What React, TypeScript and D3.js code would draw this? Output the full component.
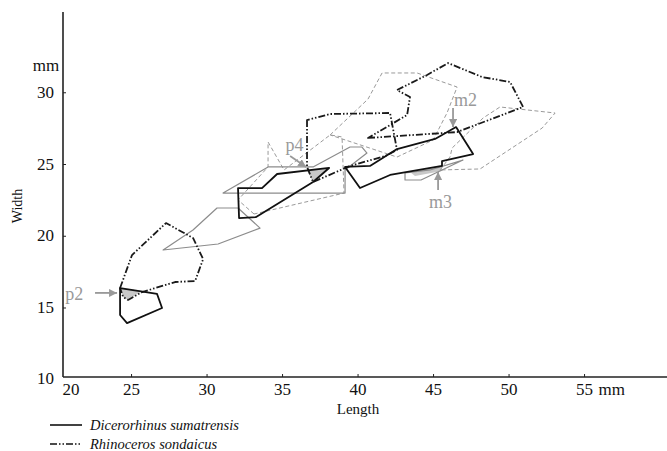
import React, { useRef, useEffect } from 'react';
import * as d3 from 'd3';

// tick labels
const xTicks = [25, 30, 35, 40, 45, 50, 55];
const yTicks = [15, 20, 25, 30];

// outlines, [length, width] in mm
// Dicerorhinus sumatrensis (black solid)
const sumP2 = [[24.24, 16.39], [26.69, 15.98], [27.02, 15.0], [24.7, 13.95], [24.24, 14.51]];
const sumP4 = [[32.05, 23.36], [32.12, 21.27], [33.25, 21.34], [37.02, 23.78], [38.08, 24.76], [34.64, 24.34], [33.64, 23.36]];
const sumM = [[39.14, 24.83], [40.13, 23.36], [42.12, 24.27], [45.56, 24.9], [45.56, 25.24], [47.62, 25.73], [46.49, 27.61], [45.1, 26.78], [42.58, 26.08], [40.79, 24.9]];

// Rhinoceros sondaicus (black dash-dot)
const sonP2 = [[24.24, 16.39], [25.03, 18.69], [27.28, 20.92], [29.07, 19.88], [29.74, 18.41], [29.21, 16.88], [27.88, 16.81], [25.7, 16.11], [24.77, 15.56], [24.44, 15.77]];
const sonP4 = [[36.62, 28.1], [36.62, 24.83], [37.02, 23.78], [39.47, 24.9], [41.79, 25.59], [42.58, 26.01], [42.12, 28.59], [38.15, 28.52]];
const sonM2 = [[40.66, 26.85], [46.56, 27.26], [50.93, 29.01], [50.07, 30.75], [48.21, 31.1], [45.96, 32.07], [44.57, 31.24], [42.58, 30.19], [43.44, 29.7], [43.25, 28.45]];

// other outlines (grey solid)
const greyP2 = [[27.09, 19.04], [29.07, 20.44], [30.66, 21.97], [32.05, 21.97], [33.51, 20.57], [30.73, 19.46]];
const greyP4 = [[31.06, 23.01], [34.04, 24.83], [37.02, 24.83], [39.47, 26.22], [40.26, 26.22], [40.59, 25.8], [39.14, 24.62], [39.14, 23.01]];
const greyM3 = [[43.11, 24.41], [43.11, 23.92], [44.17, 23.92], [46.95, 25.31], [44.77, 24.62]];

// other outlines (grey dashed)
const dashP4 = [[33.11, 21.55], [32.05, 22.53], [34.04, 24.83], [34.04, 26.57], [35.1, 24.62], [38.15, 27.06], [38.94, 26.92], [39.07, 23.01]];
const dashM2 = [[38.15, 27.06], [40.66, 29.56], [41.59, 31.38], [43.91, 31.38], [46.56, 30.4], [45.89, 28.59], [44.97, 26.71], [42.58, 25.52]];
const dashM3 = [[45.43, 24.62], [46.09, 25.52], [46.23, 26.15], [48.28, 28.24], [49.4, 29.01], [53.05, 28.59], [52.19, 27.54], [48.08, 24.69]];

// shaded overlaps
const shadeP2 = [[24.24, 16.39], [25.7, 16.18], [24.77, 15.56], [24.44, 15.77]];
const shadeP4 = [[36.62, 24.62], [38.01, 24.76], [37.02, 23.78]];
const shadeM3 = [[43.44, 24.48], [45.56, 24.9], [45.56, 24.55], [43.77, 24.2]];

const labels = ['p2', 'p4', 'm2', 'm3'];
const labelPos = [[21.8, 15.55], [35.2, 25.95], [46.35, 29.1], [44.7, 22.0]];
const arrowFrom = [[22.58, 16.05], [35.5, 25.59], [46.29, 28.94], [45.3, 23.22]];
const arrowTo = [[24.04, 16.05], [36.56, 24.83], [46.29, 27.61], [45.3, 24.48]];

const W = 667;
const H = 451;
const serif = '"Liberation Serif", "Times New Roman", serif';
const DASHDOT = '7,2,1.5,2,1.5,2';

export default function App() {
  const ref = useRef<SVGSVGElement>(null);

  useEffect(() => {
    const svg = d3.select(ref.current);
    svg.selectAll('*').remove();

    const x = d3.scaleLinear().domain([20.46, 60.46]).range([63, 667]);
    const y = d3.scaleLinear().domain([10.19, 35.63]).range([377, 12]);
    const line = d3.line<number[]>().x(d => x(d[0])).y(d => y(d[1])).curve(d3.curveLinearClosed);

    svg.append('rect').attr('width', W).attr('height', H).attr('fill', '#fff');

    const defs = svg.append('defs');
    defs.append('marker')
      .attr('id', 'arr')
      .attr('viewBox', '0 0 10 10')
      .attr('refX', 10).attr('refY', 5)
      .attr('markerWidth', 8).attr('markerHeight', 8)
      .attr('markerUnits', 'userSpaceOnUse')
      .attr('orient', 'auto')
      .append('path').attr('d', 'M0,0L10,5L0,10z').attr('fill', '#999');

    // shading
    svg.selectAll('path.shade')
      .data([shadeP2, shadeP4, shadeM3])
      .join('path')
        .attr('class', 'shade')
        .attr('d', line)
        .attr('fill', '#c8c8c8')
        .attr('stroke', 'none');

    const layers = [
      { data: [dashP4, dashM2, dashM3], stroke: '#9a9a9a', width: 1, dash: '4,2.5' },
      { data: [greyP2, greyP4, greyM3], stroke: '#8c8c8c', width: 1.2, dash: null },
      { data: [sonP2, sonP4, sonM2], stroke: '#1a1a1a', width: 1.8, dash: DASHDOT },
      { data: [sumP2, sumP4, sumM], stroke: '#111', width: 1.8, dash: null },
    ];
    layers.forEach(l => {
      svg.append('g')
        .selectAll('path')
        .data(l.data)
        .join('path')
          .attr('d', line)
          .attr('fill', 'none')
          .attr('stroke', l.stroke)
          .attr('stroke-width', l.width)
          .attr('stroke-linejoin', 'round')
          .attr('stroke-dasharray', l.dash);
    });

    // annotations
    const ann = svg.append('g');
    labels.forEach((t, i) => {
      ann.append('line')
        .attr('x1', x(arrowFrom[i][0])).attr('y1', y(arrowFrom[i][1]))
        .attr('x2', x(arrowTo[i][0])).attr('y2', y(arrowTo[i][1]))
        .attr('stroke', '#999').attr('stroke-width', 1.8)
        .attr('marker-end', 'url(#arr)');
      ann.append('text')
        .attr('x', x(labelPos[i][0])).attr('y', y(labelPos[i][1]))
        .attr('text-anchor', i === 0 ? 'end' : 'start')
        .attr('fill', '#999')
        .style('font-family', serif)
        .style('font-size', '18px')
        .text(t);
    });

    // axes
    const axes = svg.append('g').attr('stroke', '#222').attr('stroke-width', 1.6);
    axes.append('line').attr('x1', x.range()[0]).attr('x2', x.range()[1]).attr('y1', y.range()[0]).attr('y2', y.range()[0]);
    axes.append('line').attr('x1', x.range()[0]).attr('x2', x.range()[0]).attr('y1', y.range()[0]).attr('y2', y.range()[1]);

    const tickText = (sel: any) => sel
      .attr('fill', '#111')
      .style('font-family', serif)
      .style('font-size', '17px');

    svg.append('g').selectAll('line')
      .data(xTicks).join('line')
        .attr('x1', d => x(d)).attr('x2', d => x(d))
        .attr('y1', y.range()[0]).attr('y2', y.range()[0] - 3)
        .attr('stroke', '#222');
    svg.append('g').selectAll('text')
      .data(xTicks).join('text')
        .attr('x', d => x(d)).attr('y', 395)
        .attr('text-anchor', 'middle')
        .call(tickText)
        .text(d => d);
    svg.append('text').attr('x', x.range()[0] + 8).attr('y', 395)
      .attr('text-anchor', 'middle').call(tickText).text('20');
    svg.append('text').attr('x', x(55) + 14).attr('y', 395).call(tickText).text('mm');

    svg.append('g').selectAll('line')
      .data(yTicks).join('line')
        .attr('x1', x.range()[0]).attr('x2', x.range()[0] + 3)
        .attr('y1', d => y(d)).attr('y2', d => y(d))
        .attr('stroke', '#222');
    svg.append('g').selectAll('text')
      .data(yTicks).join('text')
        .attr('x', 54).attr('y', d => y(d) + 5)
        .attr('text-anchor', 'end')
        .call(tickText)
        .text(d => d);
    svg.append('text').attr('x', 54).attr('y', y.range()[0] + 7)
      .attr('text-anchor', 'end').call(tickText).text('10');
    svg.append('text').attr('x', 46).attr('y', 71)
      .attr('text-anchor', 'middle').call(tickText).text('mm');

    svg.append('text')
      .attr('transform', 'translate(22,206) rotate(-90)')
      .attr('text-anchor', 'middle')
      .attr('fill', '#111')
      .style('font-family', serif)
      .style('font-size', '14px')
      .text('Width');
    svg.append('text')
      .attr('x', 358).attr('y', 414)
      .attr('text-anchor', 'middle')
      .attr('fill', '#111')
      .style('font-family', serif)
      .style('font-size', '15px')
      .text('Length');

    // legend
    const legend = [
      { name: 'Dicerorhinus sumatrensis', dash: null },
      { name: 'Rhinoceros sondaicus', dash: DASHDOT },
    ];
    const lg = svg.append('g');
    legend.forEach((l, i) => {
      const ly = 425 + i * 19;
      lg.append('line')
        .attr('x1', 50).attr('x2', 82).attr('y1', ly).attr('y2', ly)
        .attr('stroke', '#111').attr('stroke-width', 1.6)
        .attr('stroke-dasharray', l.dash);
      lg.append('text')
        .attr('x', 90).attr('y', ly + 5)
        .attr('fill', '#111')
        .style('font-family', serif)
        .style('font-style', 'italic')
        .style('font-size', '14.5px')
        .text(l.name);
    });
  }, []);

  return <svg ref={ref} width={W} height={H} style={{ position: 'absolute', left: 0, top: 0 }} />;
}
